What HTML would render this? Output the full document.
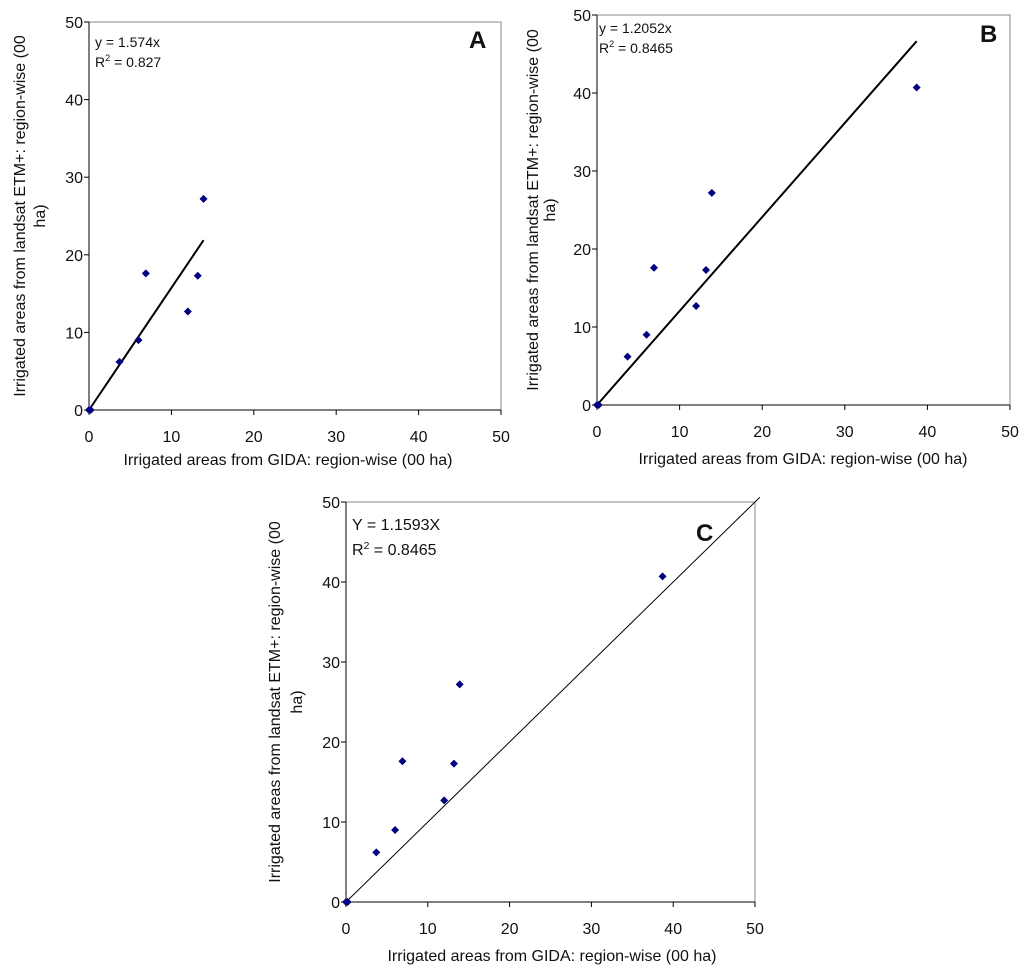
<!DOCTYPE html>
<html><head><meta charset="utf-8"><style>
body{margin:0;background:#fff;}
svg text{font-family:"Liberation Sans",Arial,sans-serif;fill:#111;}
</style></head><body>
<svg id="s" width="1024" height="972" xmlns="http://www.w3.org/2000/svg"></svg>
<script>
const gidaValues=[0,0.2,3.7,6,6.9,12,13.2,13.9,38.7];
const etmValues=[0,0,6.2,9,17.6,12.7,17.3,27.2,40.7];
const tickValues=[0,10,20,30,40,50];
const slopes=[1.574,1.2052,1];
const fitEnds=[13.9,38.7,50.6];
const eqLabels=["y = 1.574x","y = 1.2052x","Y = 1.1593X"];
const r2Labels=["0.827","0.8465","0.8465"];
const panelLetters=["A","B","C"];
const pointCounts=[8,9,9];
const NS="http://www.w3.org/2000/svg";
const svg=document.getElementById('s');
function mk(tag,attrs,parent,txt){const e=document.createElementNS(NS,tag);for(const k in attrs)e.setAttribute(k,attrs[k]);if(txt!==undefined)e.textContent=txt;parent.appendChild(e);return e;}
const panels=[
 {l:89,t:22,r:501,b:410,fs:16,lw:2,eqx:95,eqy:47,lx:469,ly:48,xt:288,xty:465,yt1:25,yt2:45,eqfs:14,eqgap:20},
 {l:597,t:15,r:1010,b:405,fs:16,lw:2,eqx:599,eqy:33,lx:980,ly:42,xt:803,xty:464,yt1:538,yt2:555,eqfs:14,eqgap:20},
 {l:346,t:502,r:755,b:902,fs:16,lw:1,eqx:352,eqy:530,lx:696,ly:541,xt:552,xty:961,yt1:280,yt2:302,eqfs:16,eqgap:25}
];
panels.forEach((p,i)=>{
 const g=mk('g',{},svg);
 
 
 const X=v=>p.l+(p.r-p.l)*v/50, Y=v=>p.b-(p.b-p.t)*v/50;
 const box=mk('rect',{x:p.l,y:p.t,width:p.r-p.l,height:p.b-p.t,fill:'none',stroke:'#888','stroke-width':1},g);
 
 
 mk('line',{x1:p.l,y1:p.t,x2:p.l,y2:p.b,stroke:'#000'},g);
 mk('line',{x1:p.l,y1:p.b,x2:p.r,y2:p.b,stroke:'#000'},g);
 tickValues.forEach(v=>{
  mk('line',{x1:X(v),y1:p.b,x2:X(v),y2:p.b+5,stroke:'#000'},g);
  mk('line',{x1:p.l-5,y1:Y(v),x2:p.l,y2:Y(v),stroke:'#000'},g);
  const xl=mk('text',{x:X(v),y:p.b+32,'font-size':p.fs,'text-anchor':'middle'},g,v);
  
  
  const yl=mk('text',{x:p.l-6,y:Y(v)+6,'font-size':p.fs,'text-anchor':'end'},g,v);
  
  
 });
 const fl=mk('line',{x1:X(0),y1:Y(0),x2:X(fitEnds[i]),y2:Y(fitEnds[i]*slopes[i]),stroke:'#000','stroke-width':p.lw},g);
 
 
 for(let k=0;k<pointCounts[i];k++){
  const cx=X(gidaValues[k]),cy=Y(etmValues[k]);
  const d=mk('polygon',{points:`${cx},${cy-4} ${cx+4},${cy} ${cx},${cy+4} ${cx-4},${cy}`,fill:'#000080'},g);
  
  
 }
 const eq=mk('text',{x:p.eqx,y:p.eqy,'font-size':p.eqfs},g,eqLabels[i]);
 
 
 const r2=mk('text',{x:p.eqx,y:p.eqy+p.eqgap,'font-size':p.eqfs},g);
 
 
 r2.appendChild(document.createTextNode('R'));
 mk('tspan',{'font-size':p.eqfs*0.65,dy:-6},r2,'2');
 mk('tspan',{dy:6},r2,' = '+r2Labels[i]);
 const lt=mk('text',{x:p.lx,y:p.ly,'font-size':24,'font-weight':'bold'},g,panelLetters[i]);
 
 
 const xt=mk('text',{x:p.xt,y:p.xty,'font-size':p.fs,'text-anchor':'middle'},g,'Irrigated areas from GIDA: region-wise (00 ha)');
 
 
 const cy=(p.t+p.b)/2;
 const yt=mk('text',{transform:`translate(${p.yt1},${cy}) rotate(-90)`,'font-size':p.fs,'text-anchor':'middle'},g,'Irrigated areas from landsat ETM+: region-wise (00');
 
 
 const yt2=mk('text',{transform:`translate(${p.yt2},${cy}) rotate(-90)`,'font-size':p.fs,'text-anchor':'middle'},g,'ha)');
 
 
});
</script>
</body></html>
